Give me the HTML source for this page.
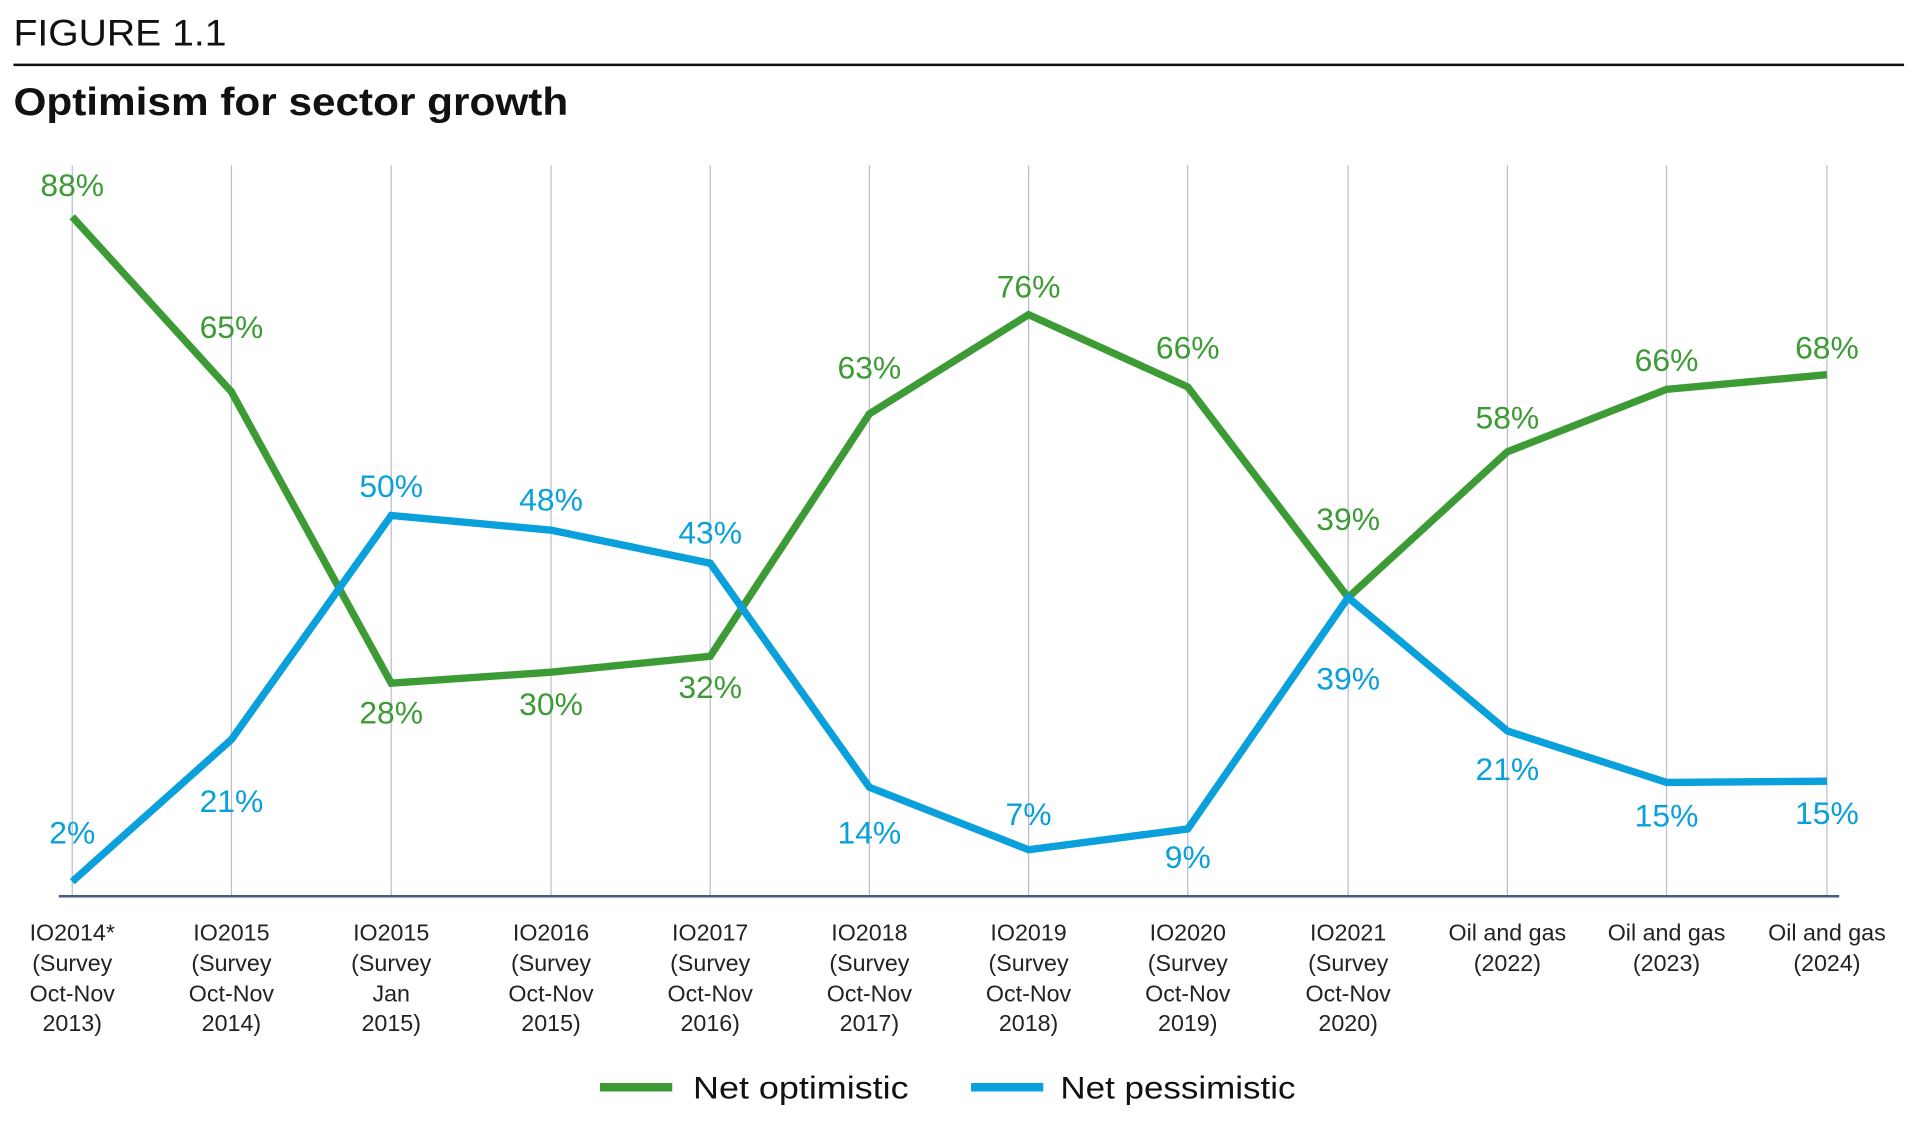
<!DOCTYPE html>
<html><head><meta charset="utf-8"><style>
html,body{margin:0;padding:0;background:#fff;}
svg{display:block;}
text{font-family:"Liberation Sans",sans-serif;}
</style></head><body>
<svg width="1920" height="1124" viewBox="0 0 1568 918" preserveAspectRatio="none" xmlns="http://www.w3.org/2000/svg">
<rect width="1568" height="918" fill="#fff"/>
<text x="11" y="37" font-size="30" fill="#111" textLength="174" lengthAdjust="spacingAndGlyphs">FIGURE 1.1</text>
<line x1="11" y1="53" x2="1555" y2="53" stroke="#111" stroke-width="2"/>
<text x="11" y="94" font-size="32" font-weight="bold" fill="#111" textLength="453" lengthAdjust="spacingAndGlyphs">Optimism for sector growth</text>
<g stroke="#b8bccf" stroke-width="1">
<line x1="59" y1="135" x2="59" y2="732"/><line x1="189" y1="135" x2="189" y2="732"/><line x1="319.5" y1="135" x2="319.5" y2="732"/><line x1="450" y1="135" x2="450" y2="732"/><line x1="580" y1="135" x2="580" y2="732"/><line x1="710" y1="135" x2="710" y2="732"/><line x1="840" y1="135" x2="840" y2="732"/><line x1="970" y1="135" x2="970" y2="732"/><line x1="1101" y1="135" x2="1101" y2="732"/><line x1="1231" y1="135" x2="1231" y2="732"/><line x1="1361" y1="135" x2="1361" y2="732"/><line x1="1492" y1="135" x2="1492" y2="732"/>
</g>
<line x1="48" y1="732" x2="1502" y2="732" stroke="#4a5a80" stroke-width="2"/>
<polyline fill="none" stroke="#3d9b35" stroke-width="6" stroke-linejoin="miter" points="59,177 189,320 319.5,558 450,549 580,536 710,338 840,257 970,316 1101,488 1231,369 1361,318 1492,306"/>
<polyline fill="none" stroke="#0aa0dc" stroke-width="6" stroke-linejoin="miter" points="59,720 189,604 319.5,421 450,433 580,460 710,643 840,694 970,677 1101,488 1231,597 1361,639 1492,638"/>
<g font-size="26" fill="#3d9b35" text-anchor="middle">
<text x="59" y="160">88%</text><text x="189" y="276">65%</text><text x="319.5" y="591">28%</text><text x="450" y="584">30%</text><text x="580" y="570">32%</text><text x="710" y="309">63%</text><text x="840" y="243">76%</text><text x="970" y="293">66%</text><text x="1101" y="433">39%</text><text x="1231" y="350">58%</text><text x="1361" y="303">66%</text><text x="1492" y="293">68%</text>
</g>
<g font-size="26" fill="#0aa0dc" text-anchor="middle">
<text x="59" y="689">2%</text><text x="189" y="663">21%</text><text x="319.5" y="406">50%</text><text x="450" y="417">48%</text><text x="580" y="444">43%</text><text x="710" y="689">14%</text><text x="840" y="674">7%</text><text x="970" y="709">9%</text><text x="1101" y="563">39%</text><text x="1231" y="637">21%</text><text x="1361" y="675">15%</text><text x="1492" y="673">15%</text>
</g>
<g font-size="19" fill="#222" text-anchor="middle">
<text x="59" y="768">IO2014*</text><text x="59" y="793">(Survey</text><text x="59" y="818">Oct-Nov</text><text x="59" y="842">2013)</text>
<text x="189" y="768">IO2015</text><text x="189" y="793">(Survey</text><text x="189" y="818">Oct-Nov</text><text x="189" y="842">2014)</text>
<text x="319.5" y="768">IO2015</text><text x="319.5" y="793">(Survey</text><text x="319.5" y="818">Jan</text><text x="319.5" y="842">2015)</text>
<text x="450" y="768">IO2016</text><text x="450" y="793">(Survey</text><text x="450" y="818">Oct-Nov</text><text x="450" y="842">2015)</text>
<text x="580" y="768">IO2017</text><text x="580" y="793">(Survey</text><text x="580" y="818">Oct-Nov</text><text x="580" y="842">2016)</text>
<text x="710" y="768">IO2018</text><text x="710" y="793">(Survey</text><text x="710" y="818">Oct-Nov</text><text x="710" y="842">2017)</text>
<text x="840" y="768">IO2019</text><text x="840" y="793">(Survey</text><text x="840" y="818">Oct-Nov</text><text x="840" y="842">2018)</text>
<text x="970" y="768">IO2020</text><text x="970" y="793">(Survey</text><text x="970" y="818">Oct-Nov</text><text x="970" y="842">2019)</text>
<text x="1101" y="768">IO2021</text><text x="1101" y="793">(Survey</text><text x="1101" y="818">Oct-Nov</text><text x="1101" y="842">2020)</text>
<text x="1231" y="768">Oil and gas</text><text x="1231" y="793">(2022)</text>
<text x="1361" y="768">Oil and gas</text><text x="1361" y="793">(2023)</text>
<text x="1492" y="768">Oil and gas</text><text x="1492" y="793">(2024)</text>
</g>
<line x1="490" y1="888" x2="549" y2="888" stroke="#3d9b35" stroke-width="7"/>
<text x="566" y="897" font-size="26" fill="#111" textLength="176" lengthAdjust="spacingAndGlyphs">Net optimistic</text>
<line x1="793" y1="888" x2="852" y2="888" stroke="#0aa0dc" stroke-width="7"/>
<text x="866" y="897" font-size="26" fill="#111" textLength="192" lengthAdjust="spacingAndGlyphs">Net pessimistic</text>
</svg>
</body></html>
